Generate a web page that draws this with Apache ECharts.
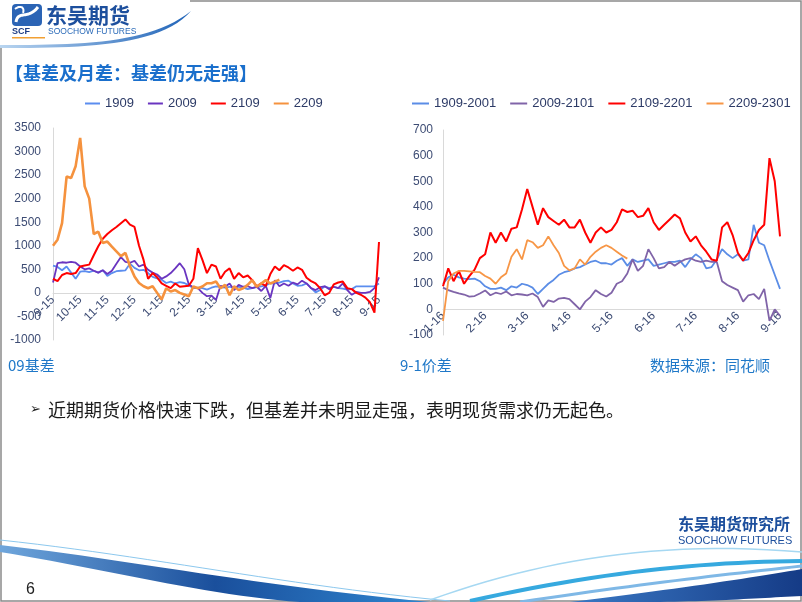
<!DOCTYPE html>
<html><head><meta charset="utf-8">
<script src="https://cdn.jsdelivr.net/npm/echarts@6/dist/echarts.min.js"></script>
<style>html,body{margin:0;padding:0;background:#fff}#c{width:802px;height:602px}</style>
</head><body><div id="c"></div>
<script>
// ---- categories / tick labels ----
const leftDates = [
 '9-15','9-20','9-25','9-30','10-5','10-10',
 '10-15','10-20','10-25','10-30','11-5','11-10',
 '11-15','11-20','11-25','11-30','12-5','12-10',
 '12-15','12-20','12-25','12-30','1-5','1-10',
 '1-15','1-20','1-25','1-30','2-5','2-10',
 '2-15','2-19','2-23','2-27','3-5','3-10',
 '3-15','3-20','3-25','3-30','4-5','4-10',
 '4-15','4-20','4-25','4-30','5-5','5-10',
 '5-15','5-20','5-25','5-30','6-5','6-10',
 '6-15','6-20','6-25','6-30','7-5','7-10',
 '7-15','7-20','7-25','7-30','8-5','8-10',
 '8-15','8-20','8-25','8-30','9-5','9-10',
 '9-15'];
const rightDates = [
 '1-16','1-20','1-24','1-28','2-1','2-5','2-9','2-13',
 '2-16','2-19','2-22','2-25','3-1','3-4','3-8','3-12',
 '3-16','3-20','3-24','3-28','4-1','4-5','4-9','4-13',
 '4-16','4-20','4-24','4-28','5-2','5-6','5-10','5-13',
 '5-16','5-20','5-24','5-28','6-1','6-5','6-9','6-13',
 '6-16','6-20','6-24','6-28','7-2','7-6','7-10','7-13',
 '7-16','7-20','7-24','7-28','8-1','8-5','8-9','8-13',
 '8-16','8-20','8-24','8-28','9-1','9-5','9-9','9-13',
 '9-16'];
const leftNames = ['1909','2009','2109','2209'];
const rightNames = ['1909-2001','2009-2101','2109-2201','2209-2301'];

// ---- 09 basis ----
const basis1909 = [580,550,480,560,430,300,
 450,460,440,470,430,480,
 360,420,460,470,480,620,
 530,480,490,420,340,310,
 280,210,240,200,230,210,
 160,100,110,100,70,110,
 140,120,110,130,100,130,
 110,80,100,120,140,160,
 210,200,220,250,260,200,
 150,160,200,100,10,60,
 140,100,130,100,90,70,
 80,140,140,140,140,140,
 200];
const basis2009 = [220,630,650,640,660,640,
 560,500,520,470,430,480,
 400,470,620,760,660,640,
 680,560,600,490,430,390,
 300,350,420,520,630,500,
 180,120,100,0,-70,-60,
 -150,150,130,200,60,170,
 130,140,100,130,40,150,
 -110,270,140,200,150,220,
 180,260,200,100,60,120,
 140,80,130,100,200,60,
 -40,20,0,0,20,100,
 330];
const basis2109 = [300,250,380,420,400,420,
 560,580,600,800,990,1150,
 1250,1330,1400,1480,1560,1450,
 1400,1000,700,300,420,330,
 200,150,100,200,130,140,
 150,300,950,700,420,600,
 560,300,450,520,300,420,
 330,370,270,140,200,150,
 400,560,480,590,540,470,
 540,490,320,250,200,100,
 -50,0,180,220,240,100,
 80,0,-40,-100,-200,-420,
 1080];
const basis2209 = [1000,1130,1480,2470,2440,2690,
 3290,2260,2000,1250,1300,1060,
 1090,980,880,780,850,565,
 350,210,140,100,140,0,
 -140,100,30,60,0,-35,
 -70,135,100,135,205,205,
 240,100,170,-50,140,60,
 100,170,270,130,200,270,
 200,240,280];

// ---- 9-1 spread ----
const spread1909 = [100,125,135,125,120,118,120,110,
 90,80,80,85,75,90,85,100,
 95,85,60,80,100,115,135,145,
 150,160,165,175,185,190,180,180,
 175,190,200,170,195,185,190,195,
 170,175,180,185,185,190,165,195,
 215,200,160,165,195,235,215,200,
 215,190,195,330,260,250,190,135,
 80];
const spread2009 = [85,75,68,62,58,50,52,62,
 74,55,65,60,70,55,60,58,
 55,62,48,10,35,29,42,45,
 40,20,0,30,48,75,60,50,
 65,100,110,140,195,150,170,235,
 200,160,165,185,170,185,195,200,
 190,185,190,185,185,110,95,85,
 75,30,55,60,40,80,-45,0,
 -25];
const spread2109 = [90,160,110,150,100,130,155,200,
 215,300,260,300,265,315,320,390,
 470,400,330,395,360,345,330,350,
 320,320,350,300,260,300,320,300,
 310,340,390,380,385,360,365,395,
 340,310,330,350,370,355,300,265,
 285,250,225,195,190,320,340,290,
 220,190,220,270,310,330,590,500,
 285];
const spread2209 = [-45,110,140,150,150,148,146,145,
 130,120,100,125,140,205,235,195,
 270,262,240,250,285,250,220,170,
 152,160,195,175,205,225,240,250,
 240,225,210,198];

const leftColors = ['#5b8def','#6a35c0','#ff0000','#f5923e'];
const rightColors = ['#5b8de6','#8064a8','#ff0000','#f79646'];
const leftData = [basis1909, basis2009, basis2109, basis2209];
const rightData = [spread1909, spread2009, spread2109, spread2209];

const NUM = 'Liberation Sans, Arial, sans-serif';
const CJK = 'Noto Sans CJK SC, sans-serif';
const axisTxt = '#3d4c74';

function xAxisCfg(grid, dates, interval, offset) {
  return {type:'category', gridIndex:grid, data:dates, boundaryGap:false, position:'bottom', offset:offset,
    axisLine:{show:true, onZero:false, lineStyle:{color:'#d9d9d9', width:1}},
    axisTick:{show:false}, splitLine:{show:false},
    axisLabel:{interval:interval, rotate:45, color:axisTxt, fontSize:12, fontFamily:NUM, margin:5}};
}
function yAxisCfg(grid, min, max, interval, margin) {
  return {type:'value', gridIndex:grid, min:min, max:max, interval:interval,
    axisLine:{show:true, lineStyle:{color:'#d9d9d9', width:1}},
    axisTick:{show:false}, splitLine:{show:false},
    axisLabel:{color:axisTxt, fontSize:12, fontFamily:NUM, margin:margin, formatter:v=>String(v)}};
}

const series = [];
leftNames.forEach((n,i)=>series.push({name:n, type:'line', xAxisIndex:0, yAxisIndex:0,
  data:leftData[i], showSymbol:false, symbol:'none', animation:false,
  lineStyle:{color:leftColors[i], width: i===3 ? 2.6 : (i===2 ? 2 : 1.8)}, itemStyle:{color:leftColors[i]}}));
rightNames.forEach((n,i)=>series.push({name:n, type:'line', xAxisIndex:1, yAxisIndex:1,
  data:rightData[i], showSymbol:false, symbol:'none', animation:false,
  lineStyle:{color:rightColors[i], width: i===2 ? 2 : 1.8}, itemStyle:{color:rightColors[i]}}));

function txt(text, x, y, size, color, opts) {
  return {type:'text', x:x, y:y, silent:true,
    style:Object.assign({text:text, fontSize:size, fill:color, fontFamily:CJK,
      textVerticalAlign:'middle', textAlign:'left'}, opts||{})};
}
// sample a cubic bezier for decorative shapes
function bez(p0,p1,p2,p3){
  const pts=[];
  for(let k=0;k<=24;k++){const t=k/24,u=1-t;
    pts.push([u*u*u*p0[0]+3*u*u*t*p1[0]+3*u*t*t*p2[0]+t*t*t*p3[0],
              u*u*u*p0[1]+3*u*u*t*p1[1]+3*u*t*t*p2[1]+t*t*t*p3[1]]);}
  return pts;
}
function band(top, bottom, fill){
  return {type:'polygon', silent:true, shape:{points: top.concat(bottom.slice().reverse())}, style:{fill:fill}};
}
function curve(p0,p1,p2,p3,color,w){
  return {type:'polyline', silent:true, shape:{points:bez(p0,p1,p2,p3)}, style:{stroke:color, lineWidth:w, fill:null}};
}
const grad = (a,b,c)=>({type:'linear',x:0,y:0,x2:1,y2:0,colorStops: c ? [{offset:0,color:a},{offset:0.5,color:b},{offset:1,color:c}] : [{offset:0,color:a},{offset:1,color:b}]});

const graphic = [
  // frame
  {type:'polyline', silent:true, shape:{points:[[190,1],[801,1],[801,601],[1,601],[1,46]]},
   style:{stroke:'#8a8a8a', lineWidth:1.5, fill:null}},
  // header swoosh
  band(bez([0,45],[80,45],[150,44],[191,11]), bez([0,48],[80,48],[160,47],[191,11]), grad('#b9d5f0','#1f63b8')),
  // logo icon
  {type:'rect', silent:true, shape:{x:12,y:4,width:30,height:22,r:4}, style:{fill:'#2b64b5'}},
  curve([16,22],[18,10],[28,20],[38,7],'#ffffff',3),
  curve([15,9],[20,5],[25,7],[23,13],'#ffffff',2),
  txt('SCF', 12, 32, 9, '#1d3c84', {fontWeight:'bold', fontFamily:NUM}),
  {type:'rect', silent:true, shape:{x:12,y:37,width:33,height:1.5}, style:{fill:'#f2a033'}},
  txt('东吴期货', 46, 15, 21, '#1d4f9d', {fontWeight:'bold'}),
  txt('SOOCHOW FUTURES', 48, 32, 8.5, '#2a6ab8', {fontFamily:NUM}),
  // title
  txt('【基差及月差：基差仍无走强】', 5, 73, 18, '#1a6fcc', {fontWeight:'bold'}),
  // captions
  txt('09基差', 8, 365, 15, '#1f78c8'),
  txt('9-1价差', 400, 365, 15, '#1f78c8'),
  txt('数据来源：同花顺', 770, 365, 15, '#1f78c8', {textAlign:'right'}),
  // bullet
  txt('➢', 30, 410, 13, '#222222', {fontFamily:'DejaVu Sans'}),
  txt('近期期货价格快速下跌，但基差并未明显走强，表明现货需求仍无起色。', 48, 410, 18, '#1a1a1a'),
  // page number
  txt('6', 26, 590, 16, '#222222', {fontFamily:NUM}),
  // bottom-right logo
  txt('东吴期货研究所', 678, 524, 16, '#1d4f9d', {fontWeight:'bold'}),
  txt('SOOCHOW FUTURES', 678, 541, 11, '#1d4f9d', {fontFamily:NUM}),
  // bottom swooshes
  curve([0,540],[150,556],[290,586],[450,601],'#8cc8ee',1),
  band(bez([0,545],[130,560],[260,586],[430,602]), bez([0,552],[100,568],[210,596],[300,602]), grad('#6fa6dc','#1a4f9c','#2f86d0')),
  curve([430,600],[540,560],[660,540],[802,552],'#a6d8f2',1.5),
  curve([470,601],[600,572],[700,562],[802,561],'#36a9df',4),
  curve([520,602],[640,584],[720,575],[802,566],'#7fb8e6',3),
  band(bez([570,602],[670,590],[750,578],[802,569]), bez([660,602],[720,601],[760,598],[802,596]), grad('#3a78c4','#153b86'))
];

const chart = echarts.init(document.getElementById('c'), null, {renderer:'canvas'});
chart.setOption({
  backgroundColor:'#ffffff',
  animation:false,
  grid:[
    {left:53, top:128, width:326, height:212, containLabel:false, outerBoundsMode:'none'},
    {left:443, top:130, width:337, height:205, containLabel:false, outerBoundsMode:'none'}
  ],
  legend:[
    {data:leftNames, left:85, top:97, padding:0, icon:'rect', itemWidth:15, itemHeight:2, itemGap:14,
     textStyle:{color:'#2c3a66', fontSize:13, fontFamily:NUM}},
    {data:rightNames, left:412, top:97, padding:0, icon:'rect', itemWidth:17, itemHeight:2, itemGap:14,
     textStyle:{color:'#2c3a66', fontSize:13, fontFamily:NUM}}
  ],
  xAxis:[xAxisCfg(0, leftDates, 5, -47), xAxisCfg(1, rightDates, 7, -26)],
  yAxis:[yAxisCfg(0, -1000, 3500, 500, 12), yAxisCfg(1, -100, 700, 100, 10)],
  series:series,
  graphic:graphic
});
</script></body></html>
